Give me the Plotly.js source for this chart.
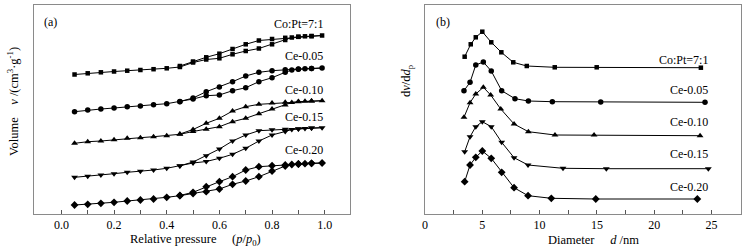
<!DOCTYPE html>
<html>
<head>
<meta charset="utf-8">
<script src="https://cdn.plot.ly/plotly-3.0.1.min.js"></script>
<style>html,body{margin:0;padding:0;background:#fff;}#chart{width:748px;height:251px;}</style>
</head>
<body>
<div id="chart"></div>
<script>
// ---------- Panel (a): N2 isotherms (arbitrary offset volume units) ----------
const pAds = [0.05,0.1,0.15,0.2,0.25,0.3,0.35,0.4,0.45,0.5,0.55,0.6,0.65,0.7,0.75,0.8,0.85,0.875,0.9,0.925,0.95,0.99];
const pDes = [0.95,0.9,0.85,0.8,0.75,0.7,0.65,0.6,0.55,0.5,0.45];

const coPtAds = [139.5,140.7,141.7,142.5,143.3,144,144.8,145.7,147,151.5,154.5,155.7,159.7,163,165.5,169.7,174,176.5,177.2,177.7,178,178.5];
const coPtDes = [177.8,177.2,176.2,175,173.5,169.7,165,160.3,156.7,152.5,148];

const ce005Ads = [102.3,104,105,106,107.3,108,109.3,110.3,112.3,115,118.3,119,123.3,126.3,132.3,136.3,141.7,144,144.7,145.2,145.5,146];
const ce005Des = [145.5,145,144.2,143.3,141.7,138,132.3,127,122.3,116,112.5];

const ce010Ads = [70.7,72.3,73,74.3,75.7,76.3,77.3,78.3,79.7,82.5,84.7,87.3,92.3,95.7,100.3,105,109,111.5,112.3,112.7,113,113.3];
const ce010Des = [113,112.5,111.7,111,109.7,107.3,103,95.7,90.7,84.5,80];

const ce015Ads = [36.7,37.7,39,40.3,41.7,42.7,44,45.7,48,51,52.5,55.7,59.7,65.7,73,79,82.5,84.5,85,85.5,86,86.3];
const ce015Des = [86,85.3,84.7,84.3,83.3,79,73,65,58.3,52,48.2];

const ce020Ads = [9,9.7,10.7,11.7,13,14,15,16.7,18.3,20.5,22.3,25,29.7,33,37.3,43,48,49.5,50,50.3,50.7,51];
const ce020Des = [50.7,50,49,48.3,47.3,44,37.3,32.3,27.3,21.7,18.5];

// ---------- Panel (b): pore size distributions ----------
const dCoPt  = [3.46,3.99,4.43,5.0,5.78,6.66,7.70,8.88,11.32,14.98,24.07];
const vCoPt  = [157.3,169.7,176.7,182.3,171.7,161.7,151.7,148,146.7,146.7,146.3];
const dCe005 = [3.40,3.93,4.43,5.09,5.78,6.69,7.85,9.02,11.11,15.33,24.43];
const vCe005 = [123.3,131.7,149,152,143,123.3,115.3,113,112.3,112,111.7];
const dCe010 = [3.40,3.93,4.43,5.09,5.73,6.61,7.77,9.02,11.34,14.75,24.0];
const vCe010 = [96.7,111.3,120,126.7,119,105,90,82.3,79,79,78.3];
const dCe015 = [3.46,3.93,4.43,5.0,5.78,6.69,7.77,8.99,12.04,15.82,24.72];
const vCe015 = [62.3,77.3,87.3,92.3,87.3,71.7,56.3,49,45.7,45.3,45.3];
const dCe020 = [3.46,3.93,4.43,5.0,5.78,6.69,7.77,8.99,11.02,14.9,23.76];
const vCe020 = [32.3,49,56.7,63,55.7,41.7,26.3,18.3,15.7,15,15];

const seriesNames = ['Co:Pt=7:1','Ce-0.05','Ce-0.10','Ce-0.15','Ce-0.20'];
const symbols = ['square','circle','triangle-up','triangle-down','diamond'];
const sizes = [4.5,5.5,6,6,6];

// label positions (value units)
const labelYA = [190,157.7,124.3,97.3,64.3];
const labelYB = [154,124,92,60,27];

// minor tick positions
const minorTicksA = [0.1,0.3,0.5,0.7,0.9];
const minorTicksB = [2.5,7.5,12.5,17.5,22.5];

const adsSets = [[coPtAds,coPtDes],[ce005Ads,ce005Des],[ce010Ads,ce010Des],[ce015Ads,ce015Des],[ce020Ads,ce020Des]];
const psdSets = [[dCoPt,vCoPt],[dCe005,vCe005],[dCe010,vCe010],[dCe015,vCe015],[dCe020,vCe020]];

const traces = [];
adsSets.forEach((s,i)=>{
  traces.push({
    x: pAds.concat(pDes), y: s[0].concat(s[1]),
    xaxis:'x', yaxis:'y', mode:'lines+markers', name: seriesNames[i],
    line:{color:'#000', width:1},
    marker:{symbol:symbols[i], size:sizes[i], color:'#000'},
    showlegend:false, hoverinfo:'skip'
  });
});
psdSets.forEach((s,i)=>{
  traces.push({
    x: s[0], y: s[1],
    xaxis:'x2', yaxis:'y2', mode:'lines+markers', name: seriesNames[i],
    line:{color:'#000', width:1},
    marker:{symbol:symbols[i], size:sizes[i], color:'#000'},
    showlegend:false, hoverinfo:'skip'
  });
});

const FONT = '"Liberation Serif","Times New Roman",serif';
const frame = {showline:true, mirror:true, linecolor:'#8a8a8a', linewidth:1, showgrid:false, zeroline:false};

const annotations = [];
seriesNames.forEach((n,i)=>{
  annotations.push({xref:'x', yref:'y', x:1.0, y:labelYA[i], text:n, showarrow:false, xanchor:'right', yanchor:'middle', font:{family:FONT,size:12,color:'#000'}});
  annotations.push({xref:'x2', yref:'y2', x:24.9, y:labelYB[i], text:n, showarrow:false, xanchor:'right', yanchor:'middle', font:{family:FONT,size:12,color:'#000'}});
});
annotations.push({xref:'x', yref:'y', x:-0.041, y:192, text:'(a)', showarrow:false, xanchor:'center', yanchor:'middle', font:{family:FONT,size:12,color:'#000'}});
annotations.push({xref:'x2', yref:'y2', x:1.57, y:192, text:'(b)', showarrow:false, xanchor:'center', yanchor:'middle', font:{family:FONT,size:12,color:'#000'}});
const nb = '\u00A0';
annotations.push({xref:'paper', yref:'paper', x:195.8/748, y:-0.1244, text:'Relative pressure'+nb.repeat(5)+'(<i>p</i>/<i>p</i><sub>0</sub>)', showarrow:false, xanchor:'center', yanchor:'middle', font:{family:FONT,size:12.5,color:'#000'}});
annotations.push({xref:'paper', yref:'paper', x:593/748, y:-0.1244, text:'Diameter'+nb.repeat(5)+'<i>d</i> /nm', showarrow:false, xanchor:'center', yanchor:'middle', font:{family:FONT,size:12.5,color:'#000'}});
annotations.push({xref:'paper', yref:'paper', x:13/748, y:0.536, text:'Volume'+nb.repeat(4)+'<i>v</i> /(cm<sup>3</sup>·g<sup>-1</sup>)', textangle:-90, showarrow:false, xanchor:'center', yanchor:'middle', font:{family:FONT,size:12.5,color:'#000'}});
annotations.push({xref:'paper', yref:'paper', x:407/748, y:0.641, text:'d<i>v</i>/d<i>d</i><sub>p</sub>', textangle:-90, showarrow:false, xanchor:'center', yanchor:'middle', font:{family:FONT,size:12.5,color:'#000'}});

const tickStyle = {ticks:'inside', ticklen:4, tickcolor:'#555', tickfont:{family:FONT,size:12,color:'#000'}};

const layout = {
  width:748, height:251,
  margin:{l:0, r:0, t:5, b:37},
  paper_bgcolor:'#fff', plot_bgcolor:'#fff',
  font:{family:FONT, size:12, color:'#000'},
  showlegend:false,
  xaxis: Object.assign({}, frame, tickStyle, {domain:[34/748, 350/748], range:[-0.104,1.096], tickmode:'linear', tick0:0, dtick:0.2, tickformat:'.1f',
    minor:{tickmode:'array', tickvals:minorTicksA, ticks:'inside', ticklen:4, tickcolor:'#555', showgrid:false}, anchor:'y'}),
  yaxis: Object.assign({}, frame, {domain:[0,1], range:[0,209], showticklabels:false, ticks:'', anchor:'x'}),
  xaxis2: Object.assign({}, frame, tickStyle, {domain:[425/748, 741/748], range:[0,27.57], tickmode:'linear', tick0:0, dtick:5,
    minor:{tickmode:'array', tickvals:minorTicksB, ticks:'inside', ticklen:4, tickcolor:'#555', showgrid:false}, anchor:'y2'}),
  yaxis2: Object.assign({}, frame, {domain:[0,1], range:[0,209], showticklabels:false, ticks:'', anchor:'x2'}),
  annotations: annotations
};

Plotly.newPlot('chart', traces, layout, {staticPlot:true, displayModeBar:false});
</script>
</body>
</html>
